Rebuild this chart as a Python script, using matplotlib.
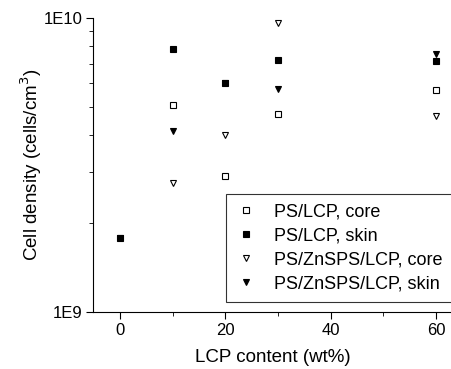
import numpy as np
import matplotlib
matplotlib.use('Agg')
import matplotlib.pyplot as plt
from matplotlib.ticker import FixedLocator, NullFormatter

plt.rcParams['font.family'] = ['Liberation Sans', 'DejaVu Sans']

lcp = [0, 10, 20, 30, 60]
ps_core = [None, 5.05e9, 2.89e9, 4.71e9, 5.69e9]
ps_skin = [1.79e9, 7.85e9, 6.0e9, 7.2e9, 7.14e9]
zn_core = [None, 2.75e9, 4.0e9, 9.64e9, 4.64e9]
zn_skin = [1.79e9, 4.13e9, 6.0e9, 5.72e9, 7.52e9]

series = [
    ('PS/LCP, core', ps_core, 's', 'white'),
    ('PS/LCP, skin', ps_skin, 's', 'black'),
    ('PS/ZnSPS/LCP, core', zn_core, 'v', 'white'),
    ('PS/ZnSPS/LCP, skin', zn_skin, 'v', 'black'),
]

fig = plt.figure(figsize=(4.52, 3.69), dpi=100)
ax = fig.add_axes([93.5 / 452, 1 - 312 / 369, 1 - 93.5 / 452, 294 / 369])

for name, vals, m, fc in series:
    xs = [x for x, v in zip(lcp, vals) if v is not None]
    ys = [v for v in vals if v is not None]
    ax.plot(xs, ys, linestyle='none', marker=m, markersize=5,
            markerfacecolor=fc, markeredgecolor='black', markeredgewidth=0.8,
            label=name)

ax.set_yscale('log')
ax.set_ylim(1e9, 1e10)
ax.set_xlim(-5, 63)
ax.yaxis.set_major_locator(FixedLocator([1e9, 1e10]))
ax.set_yticklabels(['1E9', '1E10'])
ax.yaxis.set_minor_locator(FixedLocator([k * 1e9 for k in range(2, 10)]))
ax.yaxis.set_minor_formatter(NullFormatter())
ax.xaxis.set_major_locator(FixedLocator([0, 20, 40, 60]))
ax.xaxis.set_minor_locator(FixedLocator([10, 30, 50]))

for s in ['top', 'right']:
    ax.spines[s].set_visible(False)
ax.tick_params(which='major', direction='out', length=5, labelsize=12, pad=3)
ax.tick_params(which='minor', direction='out', length=3)

ax.set_xlabel('LCP content (wt%)', fontsize=13.5, labelpad=8)
ax.set_ylabel('Cell density (cells/cm$^3$)', fontsize=13.5, labelpad=0)

leg = ax.legend(loc='lower right', bbox_to_anchor=(1.0, 1 - 302 / 369),
                bbox_transform=fig.transFigure, fontsize=13,
                frameon=True, fancybox=False, edgecolor='black',
                handlelength=1.1, handletextpad=1.0, labelspacing=0.38,
                borderpad=0.55, borderaxespad=0)
leg.get_frame().set_linewidth(0.8)

fig.savefig('out.png', dpi=100)
